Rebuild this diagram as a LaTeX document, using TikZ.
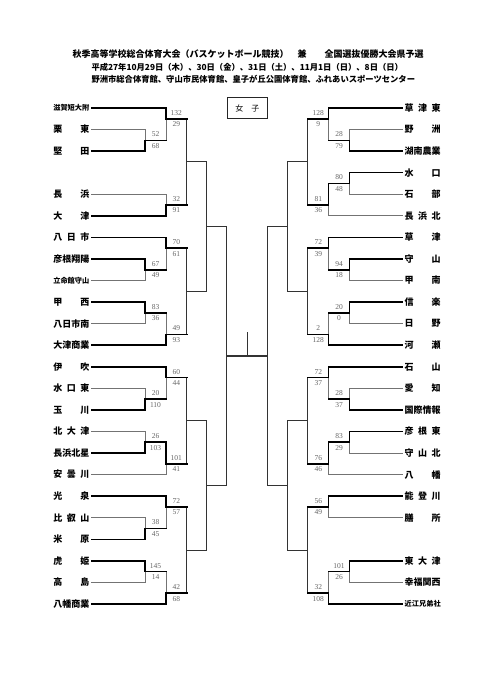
\documentclass[tikz,border=0pt]{standalone}
\usepackage{fontspec}
\setmainfont{Liberation Serif}
\newfontfamily\jp{Noto Sans CJK JP}
\usetikzlibrary{positioning}
\tikzset{
  team/.style={font=\jp\bfseries\fontsize{9}{9}\selectfont,inner sep=2pt},
  teamsmall/.style={font=\jp\bfseries\fontsize{7.2}{7.2}\selectfont,inner sep=2pt},
  score/.style={font=\fontsize{7.5}{7.5}\selectfont,text=black!60,inner sep=0pt},
  win/.style={line width=1.6pt,black,line cap=rect},
  lose/.style={line width=0.7pt,black!55,line cap=rect},
  pending/.style={line width=1.1pt,black!80,line cap=rect},
}
\newcommand{\matchscore}[4]{\path (#1) ++(#2,-6) node[score] {#3} ++(0,11.5) node[score] {#4};}

\begin{document}
\begin{tikzpicture}[x=1pt,y=-1pt]
\useasboundingbox (0,0) rectangle (481,680);
\fill[white] (0,0) rectangle (481,680);

% heading
\node[font=\jp\bfseries\fontsize{9}{9}\selectfont] (head) at (248,54) {秋季高等学校総合体育大会（バスケットボール競技）\hspace{1em}兼\hspace{2em}全国選抜優勝大会県予選};
\node[font=\jp\bfseries\fontsize{8.3}{8.3}\selectfont,anchor=west] (dates) at (88,67) {平成27年10月29日（木）、30日（金）、31日（土）、11月1日（日）、8日（日）};
\node[font=\jp\bfseries\fontsize{8.3}{8.3}\selectfont,anchor=west] (venues) at (88,79) {野洲市総合体育館、守山市民体育館、皇子が丘公園体育館、ふれあいスポーツセンター};
\node[draw,line width=0.9pt,black!85,text=black,minimum width=40.6pt,minimum height=20.6pt,font=\jp\fontsize{8}{8}\selectfont] (women) at (247.3,108) {女\hspace{1em}子};

% teams, left
\node[teamsmall,anchor=east] (L0) at (91.5,108) {\makebox[36pt][s]{滋賀短大附}};
\node[teamsmall,anchor=east] (L8) at (91.5,280.52) {\makebox[36pt][s]{立命館守山}};
\foreach \k/\n in {1/栗 東,2/堅 田,4/長 浜,5/大 津,6/八 日 市,7/彦根翔陽,9/甲 西,10/八日市南,
  11/大津商業,12/伊 吹,13/水 口 東,14/玉 川,15/北 大 津,16/長浜北星,17/安 曇 川,
  18/光 泉,19/比 叡 山,20/米 原,21/虎 姫,22/高 島,23/八幡商業}
  \node[team,anchor=east] (L\k) at (91.5,{108+21.565*\k}) {\makebox[36pt][s]{\n}};

% teams, right
\node[teamsmall,anchor=west] (R23) at (402.5,604) {\makebox[36pt][s]{近江兄弟社}};
\foreach \k/\n in {0/草 津 東,1/野 洲,2/湖南農業,3/水 口,4/石 部,5/長 浜 北,6/草 津,7/守 山,
  8/甲 南,9/信 楽,10/日 野,11/河 瀬,12/石 山,13/愛 知,14/国際情報,15/彦 根 東,
  16/守 山 北,17/八 幡,18/能 登 川,19/膳 所,21/東 大 津,22/幸福関西}
  \node[team,anchor=west] (R\k) at (402.5,{108+21.565*\k}) {\makebox[36pt][s]{\n}};

% match points
\coordinate (a1) at (145,140.35);   \coordinate (a2) at (166,118.78);
\coordinate (a3) at (166,205.04);   \coordinate (b1) at (186.7,161.91);
\coordinate (a4) at (145,269.74);   \coordinate (a5) at (166,248.17);
\coordinate (a6) at (145,312.87);   \coordinate (a7) at (166,334.43);
\coordinate (b2) at (186.7,291.30); \coordinate (d1) at (206.7,226.61);
\coordinate (a8) at (145,399.13);   \coordinate (a9) at (166,377.57);
\coordinate (a10) at (145,442.26);  \coordinate (a11) at (166,463.83);
\coordinate (b3) at (186.7,420.70);
\coordinate (a12) at (145,528.52);  \coordinate (a13) at (166,506.96);
\coordinate (a14) at (145,571.65);  \coordinate (a15) at (166,593.22);
\coordinate (b4) at (186.7,550.09); \coordinate (d2) at (206.7,485.39);
\coordinate (f1) at (226.7,356.0);

\coordinate (r1) at (349.6,140.35);  \coordinate (r2) at (328.6,118.78);
\coordinate (r3) at (349.6,183.48);  \coordinate (r4) at (328.6,205.04);
\coordinate (s1) at (307.9,161.91);
\coordinate (r5) at (349.6,269.74);  \coordinate (r6) at (328.6,248.17);
\coordinate (r7) at (349.6,312.87);  \coordinate (r8) at (328.6,334.43);
\coordinate (s2) at (307.9,291.30);  \coordinate (t1) at (287.9,226.61);
\coordinate (r9) at (349.6,399.13);  \coordinate (r10) at (328.6,377.57);
\coordinate (r11) at (349.6,442.26); \coordinate (r12) at (328.6,463.83);
\coordinate (s3) at (307.9,420.70);
\coordinate (r13) at (328.6,506.96);
\coordinate (r14) at (349.6,571.65); \coordinate (r15) at (328.6,593.22);
\coordinate (s4) at (307.9,550.09);  \coordinate (t2) at (287.9,485.39);
\coordinate (f2) at (267.9,356.0);
\coordinate (champ) at (247.3,333);

% rounds still to play
\draw[pending] (b1 |- a2) -- (b1 |- a3) (b1) -- (d1 |- b1)
  (b2 |- a5) -- (b2 |- a7) (b2) -- (d1 |- b2)
  (d1 |- b1) -- (d1 |- b2) (d1) -- (f1 |- d1)
  (b3 |- a9) -- (b3 |- a11) (b3) -- (d2 |- b3)
  (b4 |- a13) -- (b4 |- a15) (b4) -- (d2 |- b4)
  (d2 |- b3) -- (d2 |- b4) (d2) -- (f1 |- d2)
  (f1 |- d1) -- (f1 |- d2) (f1) -- (f2) (champ) -- (champ |- f1);
\draw[pending] (s1 |- r2) -- (s1 |- r4) (s1) -- (t1 |- s1)
  (s2 |- r6) -- (s2 |- r8) (s2) -- (t1 |- s2)
  (t1 |- s1) -- (t1 |- s2) (t1) -- (f2 |- t1)
  (s3 |- r10) -- (s3 |- r12) (s3) -- (t2 |- s3)
  (s4 |- r13) -- (s4 |- r15) (s4) -- (t2 |- s4)
  (t2 |- s3) -- (t2 |- s4) (t2) -- (f2 |- t2)
  (f2 |- t1) -- (f2 |- t2);

% left results
\draw[lose] (L1.east) -| (a1) (a2 |- a1) -- (a2);
\draw[win] (L2.east) -| (a1) -- (a2 |- a1) (L0.east) -| (a2) -- (b1 |- a2);
\draw[lose] (L4.east) -| (a3);
\draw[win] (L5.east) -| (a3) -- (b1 |- a3);
\draw[lose] (L8.east) -| (a4) (a5 |- a4) -- (a5);
\draw[win] (L7.east) -| (a4) -- (a5 |- a4) (L6.east) -| (a5) -- (b2 |- a5);
\draw[lose] (L10.east) -| (a6) (a7 |- a6) -- (a7);
\draw[win] (L9.east) -| (a6) -- (a7 |- a6) (L11.east) -| (a7) -- (b2 |- a7);
\draw[lose] (L13.east) -| (a8) (a9 |- a8) -- (a9);
\draw[win] (L14.east) -| (a8) -- (a9 |- a8) (L12.east) -| (a9) -- (b3 |- a9);
\draw[lose] (L15.east) -| (a10) (L17.east) -| (a11);
\draw[win] (L16.east) -| (a10) -- (a11 |- a10) -- (a11) -- (b3 |- a11);
\draw[lose] (L19.east) -| (a12) (a13 |- a12) -- (a13);
\draw[win] (L20.east) -| (a12) -- (a13 |- a12) (L18.east) -| (a13) -- (b4 |- a13);
\draw[lose] (L22.east) -| (a14) (a15 |- a14) -- (a15);
\draw[win] (L21.east) -| (a14) -- (a15 |- a14) (L23.east) -| (a15) -- (b4 |- a15);

% right results
\draw[lose] (R1.west) -| (r1) (r2 |- r1) -- (r2);
\draw[win] (R2.west) -| (r1) -- (r2 |- r1) (R0.west) -| (r2) -- (s1 |- r2);
\draw[lose] (R4.west) -| (r3) (R5.west) -| (r4);
\draw[win] (R3.west) -| (r3) -- (r4 |- r3) -- (r4) -- (s1 |- r4);
\draw[lose] (R8.west) -| (r5) (r6 |- r5) -- (r6);
\draw[win] (R7.west) -| (r5) -- (r6 |- r5) (R6.west) -| (r6) -- (s2 |- r6);
\draw[lose] (R10.west) -| (r7) (r8 |- r7) -- (r8);
\draw[win] (R9.west) -| (r7) -- (r8 |- r7) (R11.west) -| (r8) -- (s2 |- r8);
\draw[lose] (R13.west) -| (r9) (r10 |- r9) -- (r10);
\draw[win] (R14.west) -| (r9) -- (r10 |- r9) (R12.west) -| (r10) -- (s3 |- r10);
\draw[lose] (R16.west) -| (r11) (R17.west) -| (r12);
\draw[win] (R15.west) -| (r11) -- (r12 |- r11) -- (r12) -- (s3 |- r12);
\draw[lose] (R19.west) -| (r13);
\draw[win] (R18.west) -| (r13) -- (s4 |- r13);
\draw[lose] (R22.west) -| (r14) (r15 |- r14) -- (r15);
\draw[win] (R21.west) -| (r14) -- (r15 |- r14) (R23.west) -| (r15) -- (s4 |- r15);

% scores
\matchscore{a1}{10.5}{52}{68}     \matchscore{a2}{10.35}{132}{29}
\matchscore{a3}{10.35}{32}{91}
\matchscore{a4}{10.5}{67}{49}     \matchscore{a5}{10.35}{70}{61}
\matchscore{a6}{10.5}{83}{36}     \matchscore{a7}{10.35}{49}{93}
\matchscore{a8}{10.5}{20}{110}    \matchscore{a9}{10.35}{60}{44}
\matchscore{a10}{10.5}{26}{103}   \matchscore{a11}{10.35}{101}{41}
\matchscore{a12}{10.5}{38}{45}    \matchscore{a13}{10.35}{72}{57}
\matchscore{a14}{10.5}{145}{14}   \matchscore{a15}{10.35}{42}{68}
\matchscore{r1}{-10.5}{28}{79}    \matchscore{r2}{-10.35}{128}{9}
\matchscore{r3}{-10.5}{80}{48}    \matchscore{r4}{-10.35}{81}{36}
\matchscore{r5}{-10.5}{94}{18}    \matchscore{r6}{-10.35}{72}{39}
\matchscore{r7}{-10.5}{20}{0}     \matchscore{r8}{-10.35}{2}{128}
\matchscore{r9}{-10.5}{28}{37}    \matchscore{r10}{-10.35}{72}{37}
\matchscore{r11}{-10.5}{83}{29}   \matchscore{r12}{-10.35}{76}{46}
\matchscore{r13}{-10.35}{56}{49}
\matchscore{r14}{-10.5}{101}{26}  \matchscore{r15}{-10.35}{32}{108}
\end{tikzpicture}
\end{document}
